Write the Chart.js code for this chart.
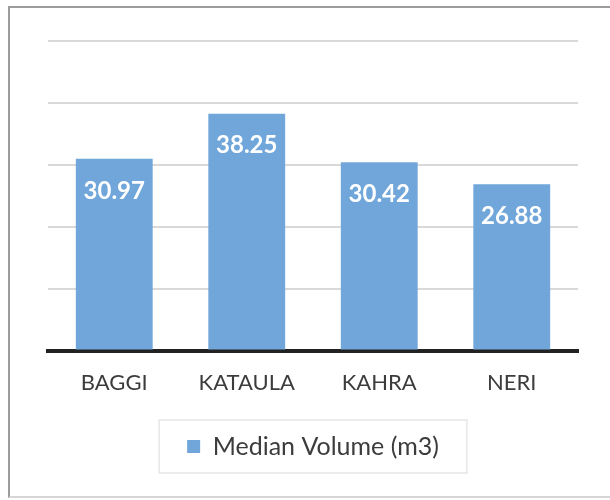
<!DOCTYPE html>
<html lang="en">
<head>
    <meta charset="UTF-8">
    <title>Median Volume (m3)</title>
    <script src="https://cdn.jsdelivr.net/npm/chart.js"></script>
    <style>
        body {
            margin: 0;
            background: #fff;
            overflow: hidden;
        }
        #frame {
            position: absolute;
            left: 8px;
            top: 6px;
            width: 610px;
            height: 488px;
            border-left: 2px solid #9c9c9c;
            border-top: 2px solid #9c9c9c;
            border-bottom: 2px solid #d6d6d6;
        }
        #wrap {
            position: absolute;
            left: 0;
            top: 0;
            width: 600px;
            height: 488px;
        }
    </style>
</head>
<body>
    <div id="frame">
        <div id="wrap">
            <canvas id="volChart"></canvas>
        </div>
    </div>

    <script>
        // data
        const sites = ['BAGGI', 'KATAULA', 'KAHRA', 'NERI'];
        const medianVolume = [30.97, 38.25, 30.42, 26.88];
        const seriesName = 'Median Volume (m3)';

        // white value labels inside the top of each bar
        const valueLabels = {
            id: 'valueLabels',
            afterDatasetsDraw(chart) {
                const ctx = chart.ctx;
                const meta = chart.getDatasetMeta(0);
                ctx.save();
                ctx.fillStyle = '#ffffff';
                ctx.font = 'bold 24px Lato';
                ctx.textAlign = 'center';
                ctx.textBaseline = 'middle';
                meta.data.forEach((bar, i) => {
                    ctx.fillText(medianVolume[i].toFixed(2), bar.x, bar.y + 32);
                });
                ctx.restore();
            }
        };

        // faint box around the legend
        const legendBox = {
            id: 'legendBox',
            afterDraw(chart) {
                const lg = chart.legend;
                if (!lg || !lg.legendHitBoxes.length) return;
                const hb = lg.legendHitBoxes[0];
                const cx = hb.left + hb.width / 2;
                const cy = hb.top + hb.height / 2;
                const w = hb.width + 56;
                const h = 53;
                const ctx = chart.ctx;
                ctx.save();
                ctx.strokeStyle = '#e6e6e6';
                ctx.lineWidth = 1.5;
                ctx.strokeRect(cx - w / 2, cy - h / 2, w, h);
                ctx.restore();
            }
        };

        const ctx = document.getElementById('volChart').getContext('2d');
        const volChart = new Chart(ctx, {
            type: 'bar',
            data: {
                labels: sites,
                datasets: [{
                    label: seriesName,
                    data: medianVolume,
                    backgroundColor: '#70a6da',
                    categoryPercentage: 1.0,
                    barPercentage: 0.58
                }]
            },
            options: {
                responsive: true,
                maintainAspectRatio: false,
                animation: false,
                layout: {
                    padding: { left: 38, right: 32, top: 33, bottom: 27 }
                },
                plugins: {
                    tooltip: { enabled: false },
                    legend: {
                        position: 'bottom',
                        labels: {
                            font: { family: 'Lato', size: 25 },
                            color: '#3c3c3c',
                            boxWidth: 13,
                            boxHeight: 13,
                            padding: 19
                        }
                    }
                },
                scales: {
                    x: {
                        grid: { display: false, drawTicks: false },
                        border: { color: '#222222', width: 4 },
                        ticks: {
                            font: { family: 'Lato', size: 22 },
                            color: '#3c3c3c',
                            padding: 19
                        }
                    },
                    y: {
                        min: 0,
                        max: 50,
                        ticks: { stepSize: 10, display: false },
                        grid: { color: '#d9d9d9', lineWidth: 2, drawTicks: false },
                        border: { display: false }
                    }
                }
            },
            plugins: [valueLabels, legendBox]
        });
    </script>
</body>
</html>
